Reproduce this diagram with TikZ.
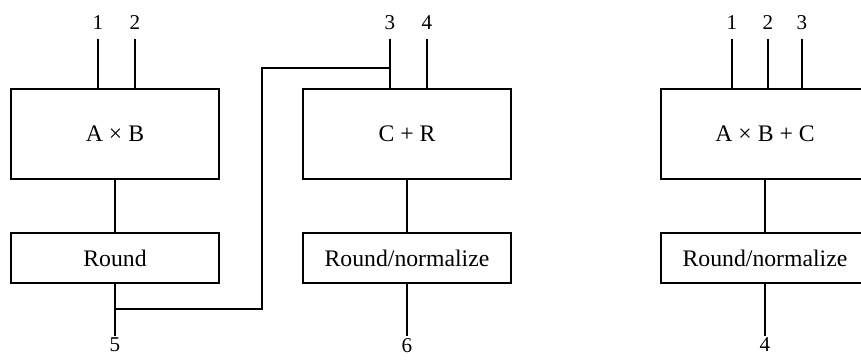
\documentclass[tikz,border=0pt]{standalone}
\usepackage{fontspec}
\setmainfont{Liberation Serif}
\usepackage{tikz}
\usetikzlibrary{positioning, calc}

\tikzset{
    unit/.style={draw, line width=1.1pt, minimum width=4.16cm, minimum height=1.8cm, inner sep=0pt, font=\fontsize{13.5}{15}\selectfont},
    rounder/.style={unit, minimum height=1cm},
    wire/.style={line width=1.1pt},
    port/.style={font=\fontsize{12}{13}\selectfont, inner sep=0pt}
}

\begin{document}
\begin{tikzpicture}[x=0.02cm, y=-0.02cm]
    \clip (0,0) rectangle (861,360);

    % Separate multiply, then add
    \node[unit] (mul) at (115,134) {A × B};
    \node[rounder] (rnd) at (115,258) {Round};
    \node[unit] (add) at (407,134) {C + R};
    \node[rounder] (norm) at (407,258) {Round/normalize};

    % Fused multiply-add
    \node[unit] (fma) at (765,134) {A × B + C};
    \node[rounder] (fnorm) at (765,258) {Round/normalize};

    % Operand inputs
    \coordinate (a1) at (98,39);
    \coordinate (a2) at (135,39);
    \coordinate (a3) at (390,39);
    \coordinate (a4) at (427,39);
    \coordinate (b1) at (732,39);
    \coordinate (b2) at (768,39);
    \coordinate (b3) at (802,39);
    \foreach \c/\t/\n in {a1/1/mul, a2/2/mul, a3/3/add, a4/4/add, b1/1/fma, b2/2/fma, b3/3/fma} {
        \draw[wire] (\c) -- (\c |- \n.north);
        \node[port, above=5pt of \c] {\t};
    }

    % Results
    \coordinate (r5) at ($(rnd.south)+(0,52)$);
    \coordinate (r6) at ($(norm.south)+(0,52)$);
    \coordinate (r4) at ($(fnorm.south)+(0,52)$);
    \draw[wire] (mul.south) -- (rnd.north);
    \draw[wire] (add.south) -- (norm.north);
    \draw[wire] (fma.south) -- (fnorm.north);
    \draw[wire] (rnd.south) -- (r5);
    \draw[wire] (norm.south) -- (r6);
    \draw[wire] (fnorm.south) -- (r4);
    \node[port, below=1pt of r5] {5};
    \node[port, below=1pt of r6] {6};
    \node[port, below=1pt of r4] {4};

    % Rounded product fed back as operand 3
    \coordinate (tap) at ($(rnd.south)+(0,25)$);
    \coordinate (join) at ($(a3)+(0,29)$);
    \coordinate (turn) at (262,0);
    \draw[wire] (tap) -- (tap -| turn) -- (turn |- join) -- (join);
\end{tikzpicture}
\end{document}
